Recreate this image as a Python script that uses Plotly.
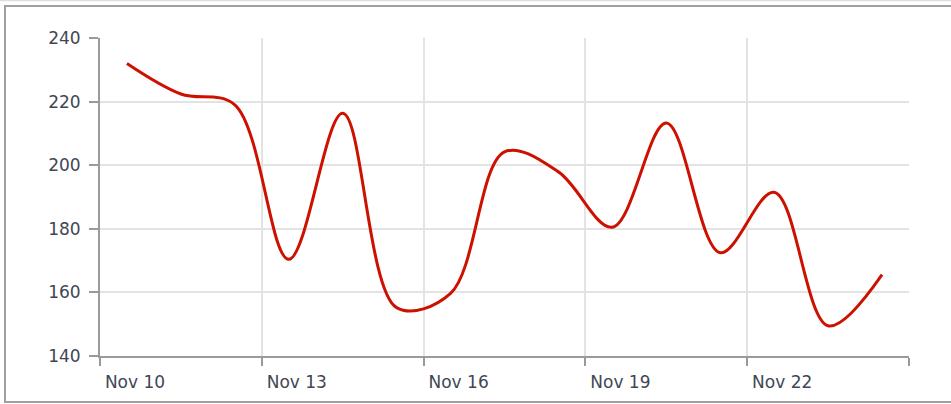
import plotly.graph_objects as go

dates = ["2023-11-10 12:00", "2023-11-11 12:00", "2023-11-12 12:00", "2023-11-13 12:00",
         "2023-11-14 12:00", "2023-11-15 12:00", "2023-11-16 12:00", "2023-11-17 12:00",
         "2023-11-18 12:00", "2023-11-19 12:00", "2023-11-20 12:00", "2023-11-21 12:00",
         "2023-11-22 12:00", "2023-11-23 12:00", "2023-11-24 12:00"]
values = [232, 222.4, 219, 170.4, 216.3, 155.2, 159.7, 204.2, 197.9, 180.5,
          213.3, 172.5, 191.5, 149.5, 165.6]

x_tick_vals = ["2023-11-10", "2023-11-13", "2023-11-16", "2023-11-19", "2023-11-22", "2023-11-25"]
x_tick_text = ["Nov 10", "Nov 13", "Nov 16", "Nov 19", "Nov 22", ""]
y_tick_vals = [140, 160, 180, 200, 220, 240]

W, H = 951, 404
ML, MR, MT, MB = 100, 42, 38, 48
PW, PH = W - ML - MR, H - MT - MB

def px_x(p):
    return (p - ML) / PW

def px_y(p):
    return (H - MB - p) / PH

fig = go.Figure()
fig.add_trace(go.Scatter(
    x=dates, y=values, mode="lines",
    line=dict(color="#cc1100", width=3, shape="spline", smoothing=1),
    hoverinfo="x+y", showlegend=False,
))

font = dict(family="DejaVu Sans", size=17, color="#3f4754")

fig.update_layout(
    width=W, height=H,
    margin=dict(l=ML, r=MR, t=MT, b=MB),
    paper_bgcolor="white", plot_bgcolor="white",
    font=font,
    xaxis=dict(
        type="date", range=["2023-11-10", "2023-11-25"],
        tickvals=x_tick_vals, ticktext=x_tick_text,
        showgrid=True, gridcolor="#e3e3e3", gridwidth=1.5,
        showline=True, linecolor="#9a9a9a", linewidth=2,
        ticks="outside", ticklen=8, tickwidth=1.5, tickcolor="#9a9a9a",
        ticklabelshift=35, ticklabelstandoff=2, zeroline=False, tickfont=font,
    ),
    yaxis=dict(
        range=[140, 240], tickvals=y_tick_vals,
        showgrid=True, gridcolor="#e3e3e3", gridwidth=1.5,
        showline=True, linecolor="#9a9a9a", linewidth=2,
        ticks="outside", ticklen=9, tickwidth=1.5, tickcolor="#9a9a9a",
        ticklabelstandoff=5, zeroline=False, tickfont=font,
    ),
    shapes=[
        dict(type="rect", xref="paper", yref="paper",
             x0=px_x(5), x1=px_x(960), y0=px_y(402), y1=px_y(6),
             line=dict(color="#a0a0a0", width=2), layer="below"),
        dict(type="line", xref="paper", yref="paper",
             x0=px_x(0), x1=px_x(960), y0=px_y(0.5), y1=px_y(0.5),
             line=dict(color="#dddddd", width=1.5), layer="below"),
    ],
)

fig.write_html("out.html", config={"displayModeBar": False},
               post_script="document.body.style.margin='0';document.body.style.overflow='hidden';")
